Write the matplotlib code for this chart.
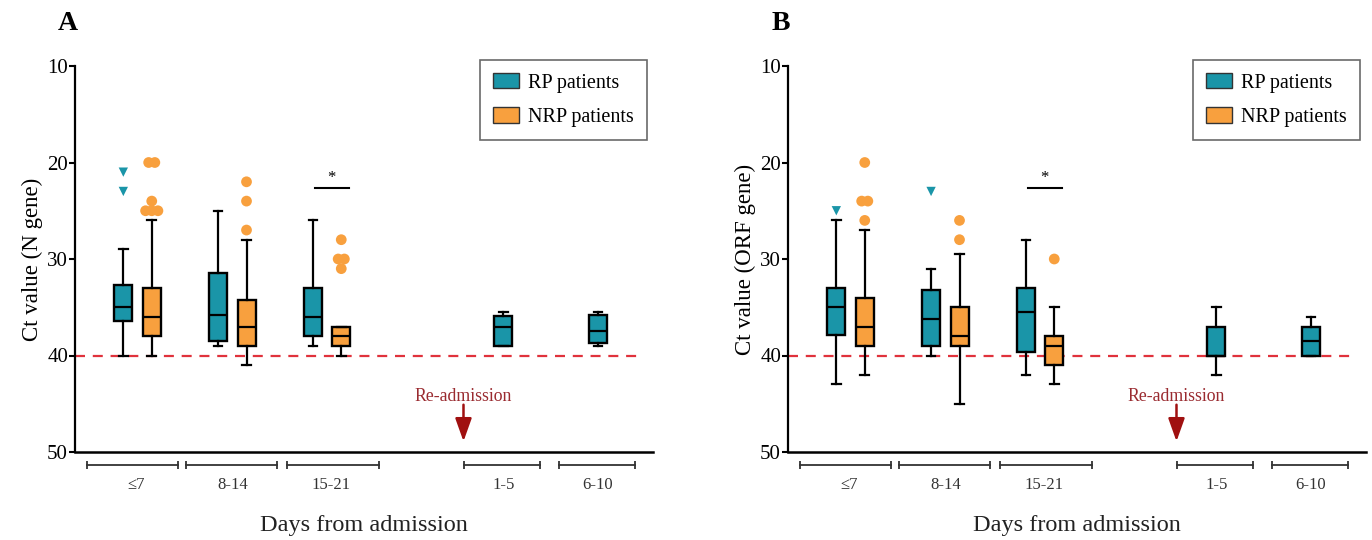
import matplotlib
matplotlib.use("Agg")
import matplotlib.pyplot as plt
import matplotlib.transforms as mtransforms
from matplotlib.patches import Patch
from collections import Counter

plt.rcParams['font.family'] = ['Liberation Serif', 'DejaVu Serif']

# ---------------- data ----------------
group_labels = ["≤7", "8-14", "15-21", "1-5", "6-10"]
group_pos = [1.0, 2.0, 3.0, 4.86, 5.86]
bracket_ranges = [(0.47, 1.43), (1.51, 2.47), (2.58, 3.55), (4.45, 5.25), (5.45, 6.25)]
label_pos = [0.98, 2.0, 3.04, 4.86, 5.86]

# five-number summaries: [lower whisker, q1, median, q3, upper whisker]
A_rp = [[29, 32.7, 35, 36.4, 40],
        [25, 31.5, 35.8, 38.5, 39],
        [26, 33, 36, 38, 39],
        [35.5, 35.9, 37, 39, 39],
        [35.5, 35.8, 37.5, 38.7, 39]]
A_nrp = [[26, 33, 36, 38, 40],
         [28, 34.2, 37, 39, 41],
         [37, 37, 38, 39, 40]]
A_rp_out = [[21, 23], [], [], [], []]
A_nrp_out = [[20, 20, 24, 25, 25, 25], [22, 24, 27], [28, 30, 30, 31]]

B_rp = [[26, 33, 35, 37.9, 43],
        [31, 33.2, 36.2, 39, 40],
        [28, 33, 35.5, 39.6, 42],
        [35, 37, 40, 40, 42],
        [36, 37, 38.5, 40, 40]]
B_nrp = [[27, 34, 37, 39, 42],
         [29.5, 35, 38, 39, 45],
         [35, 38, 39, 41, 43]]
B_rp_out = [[25], [23], [], [], []]
B_nrp_out = [[20, 24, 24, 26], [26, 28], [30]]

sig_level = 22.6
threshold = 40
readmit_x = 4.44

panels = [
    dict(letter="A", ylabel="Ct value (N gene)", rp=A_rp, nrp=A_nrp,
         rp_out=A_rp_out, nrp_out=A_nrp_out, left=75),
    dict(letter="B", ylabel="Ct value (ORF gene)", rp=B_rp, nrp=B_nrp,
         rp_out=B_rp_out, nrp_out=B_nrp_out, left=788),
]

# ---------------- style ----------------
TEAL = "#1a95a8"
ORANGE = "#f8a03e"
RED = "#e0323c"
DARKRED = "#a01010"
W, H = 1372, 540
off = 0.15
bw = 0.19

fig = plt.figure(figsize=(W / 100, H / 100), dpi=100)


def stats(row):
    lo, q1, med, q3, hi = row
    return dict(whislo=lo, q1=q1, med=med, q3=q3, whishi=hi, fliers=[])


def scatter_out(ax, x, vals, color, marker, size):
    cnt = Counter(vals)
    for v, k in cnt.items():
        for i in range(k):
            ax.scatter(x + (i - (k - 1) / 2) * 0.065, v, s=size, color=color,
                       marker=marker, edgecolor='none', zorder=4, clip_on=False)


for p in panels:
    ax = fig.add_axes([p["left"] / W, (H - 452) / H, 578 / W, 386 / H])
    common = dict(widths=bw, patch_artist=True, showfliers=False,
                  boxprops=dict(linewidth=1.7, edgecolor="black"),
                  whiskerprops=dict(linewidth=1.6, color="black"),
                  capprops=dict(linewidth=1.6, color="black"),
                  medianprops=dict(linewidth=1.6, color="black"),
                  manage_ticks=False)
    rp_x = [g - off if i < 3 else g for i, g in enumerate(group_pos)]
    nrp_x = [g + off for g in group_pos[:3]]
    b1 = ax.bxp([stats(r) for r in p["rp"]], positions=rp_x, capwidths=0.09, **common)
    for bx in b1["boxes"]:
        bx.set_facecolor(TEAL)
    b2 = ax.bxp([stats(r) for r in p["nrp"]], positions=nrp_x, capwidths=0.09, **common)
    for bx in b2["boxes"]:
        bx.set_facecolor(ORANGE)

    for x, vals in zip(rp_x, p["rp_out"]):
        scatter_out(ax, x, vals, TEAL, "v", 45)
    for x, vals in zip(nrp_x, p["nrp_out"]):
        scatter_out(ax, x, vals, ORANGE, "o", 60)

    ax.axhline(threshold, xmin=0, xmax=0.983, color=RED, lw=1.6,
               ls=(0, (4.5, 3.5)), zorder=1)

    # significance bar
    ax.plot([2.87, 3.23], [sig_level, sig_level], color="black", lw=1.5)
    ax.text(3.05, sig_level - 0.2, "*", ha="center", va="bottom", fontsize=12)

    # re-admission arrow
    ax.annotate("", xy=(readmit_x, 48.9), xytext=(readmit_x, 45.1),
                arrowprops=dict(arrowstyle="-|>,head_width=0.5,head_length=1.4",
                                color=DARKRED, lw=1.8, shrinkA=0, shrinkB=0))
    ax.text(readmit_x, 44.3, "Re-admission", ha="center", va="center",
            fontsize=12.8, color="#9a2b30")

    ax.set_xlim(0.34, 6.44)
    ax.set_ylim(50, 10)
    ax.set_yticks([10, 20, 30, 40, 50])
    ax.set_xticks([])
    ax.tick_params(axis="y", labelsize=15, length=4, width=1.5, pad=1)
    for s in ["top", "right"]:
        ax.spines[s].set_visible(False)
    ax.spines["left"].set_linewidth(1.6)
    ax.spines["bottom"].set_linewidth(1.8)
    ax.set_ylabel(p["ylabel"], fontsize=16.5, labelpad=3)

    # group brackets below axis
    tr = mtransforms.blended_transform_factory(ax.transData, ax.transAxes)
    for (a, b), lx, lab in zip(bracket_ranges, label_pos, group_labels):
        ax.plot([a, b], [-0.034, -0.034], transform=tr, color="#333333",
                lw=1.3, clip_on=False)
        ax.plot([a, b], [-0.034, -0.034], transform=tr, color="#333333", ls="none",
                marker="|", ms=6, mew=1.3, clip_on=False)
        ax.text(lx, -0.085, lab, transform=tr, ha="center", va="center",
                fontsize=12, color="#333333")
    ax.text(0.5, -0.19, "Days from admission", transform=ax.transAxes,
            ha="center", va="center", fontsize=17.5, color="#222222")

    handles = [Patch(facecolor=TEAL, edgecolor="#333333", lw=1, label="RP patients"),
               Patch(facecolor=ORANGE, edgecolor="#333333", lw=1, label="NRP patients")]
    leg = ax.legend(handles=handles, loc="upper right", bbox_to_anchor=(0.99, 1.016),
                    borderaxespad=0, fontsize=14.5, frameon=True, fancybox=False,
                    edgecolor="#444444", handlelength=1.3, handleheight=0.8,
                    borderpad=0.65, labelspacing=0.72, handletextpad=0.45)
    leg.get_frame().set_linewidth(1.2)

    fig.text((p["left"] - 7) / W, 1 - 24 / H, p["letter"], ha="center", va="center",
             fontsize=20, fontweight="bold")

fig.savefig("out.png", dpi=100)
